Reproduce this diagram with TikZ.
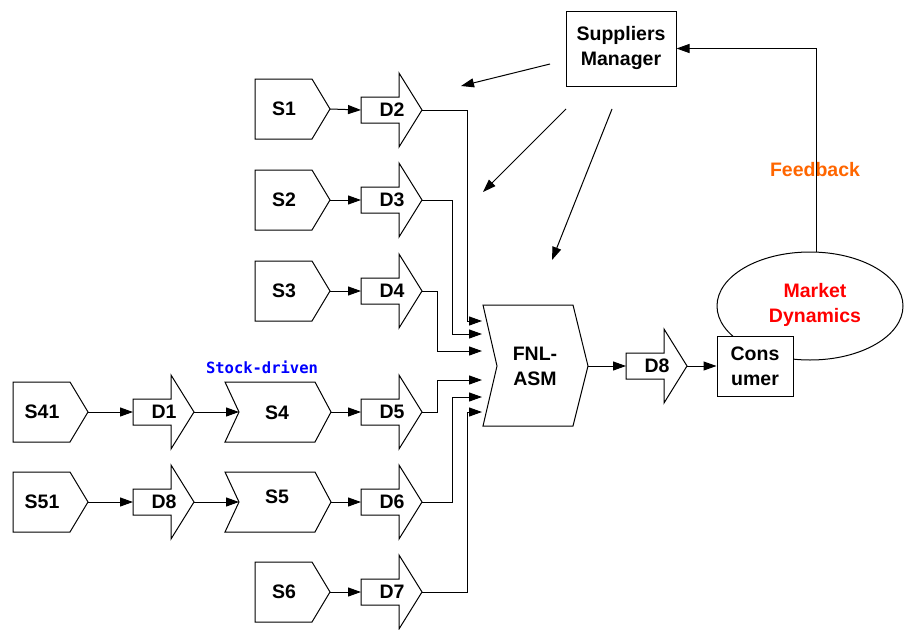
\documentclass[tikz,border=0pt]{standalone}
\usepackage{fontspec}
\setmainfont{Liberation Sans}
\newfontfamily\monofnt{DejaVu Sans Mono}
\usetikzlibrary{arrows.meta,shapes.geometric}
\definecolor{fbor}{RGB}{255,102,0}
\definecolor{sdblue}{RGB}{0,0,255}
\definecolor{mdred}{RGB}{255,0,0}
\tikzset{
  outline/.style={draw=black, line width=1pt, line join=miter, fill=white},
  lbl/.style={font=\fontsize{19.5}{25}\selectfont\bfseries, inner sep=0pt, align=center},
  conn/.style={draw=black, line width=1pt},
  arr/.style={conn, -{Triangle[length=13pt,width=9pt]}},
  box/.style={outline, lbl, rectangle, inner sep=0pt},
}
% source pentagon: name, left x, centre y, text
\newcommand{\SrcShape}[4]{%
  \draw[outline] (#2,#3-30) -- ++(57,0) -- ++(18,30) -- ++(-18,30) -- ++(-57,0) -- cycle;
  \node[lbl] (#1) at (#2+29,#3) {#4};
  \coordinate (#1-out) at (#2+75,#3);
}
% block arrow: name, body left x, centre y, text
\newcommand{\DShape}[4]{%
  \draw[outline] (#2,#3-13) -- ++(38,0) -- ++(0,-24) -- ++(23,37) -- ++(-23,37) -- ++(0,-24) -- ++(-38,0) -- cycle;
  \node[lbl] (#1) at (#2+31,#3) {#4};
  \coordinate (#1-in) at (#2,#3);
  \coordinate (#1-out) at (#2+61,#3);
}
% chevron: name, left x, centre y, text, text y
\newcommand{\StkShape}[5]{%
  \draw[outline] (#2,#3-30) -- ++(90,0) -- ++(16,30) -- ++(-16,30) -- ++(-90,0) -- ++(14,-30) -- cycle;
  \node[lbl] (#1) at (#2+52,#5) {#4};
  \coordinate (#1-in) at (#2+14,#3);
  \coordinate (#1-out) at (#2+106,#3);
}
\begin{document}
\begin{tikzpicture}[x=1pt,y=-1pt]
\useasboundingbox[fill=white] (0,0) rectangle (904,629);

% row 1
\SrcShape{S1}{255}{109}{S1}
\DShape{D2}{361}{110}{D2}
% row 2
\SrcShape{S2}{255}{200}{S2}
\DShape{D3}{361}{200}{D3}
% row 3
\SrcShape{S3}{255}{291}{S3}
\DShape{D4}{361}{291}{D4}
% row 4
\SrcShape{S41}{13}{412}{S41}
\DShape{D1}{133}{412}{D1}
\StkShape{S4}{225}{412}{S4}{413}
\DShape{D5}{361}{412}{D5}
% row 5
\SrcShape{S51}{13}{502}{S51}
\DShape{D8a}{133}{502}{D8}
\StkShape{S5}{225}{502}{S5}{497}
\DShape{D6}{361}{502}{D6}
% row 6
\SrcShape{S6}{255}{592}{S6}
\DShape{D7}{361}{592}{D7}

\node[font=\monofnt\bfseries\fontsize{15.5}{18}\selectfont, text=sdblue, inner sep=0pt] (stk) at (262,367) {Stock-driven};

% assembly
\draw[outline] (483,305) -- (573,305) -- (588,366) -- (573,426) -- (483,426) -- (497,366) -- cycle;
\node[lbl] (fnl) at (535,366) {FNL-\\ASM};
\coordinate (fnl-out) at (588,366);
\coordinate (fin1) at (482,321);
\coordinate (fin2) at (482,334);
\coordinate (fin3) at (482,351);
\coordinate (fin4) at (482,380);
\coordinate (fin5) at (482,397);
\coordinate (fin6) at (482,412);

\DShape{D8}{626}{366}{D8}

% market dynamics
\node[draw=black, line width=1pt, ellipse, minimum width=186pt, minimum height=108pt, inner sep=0pt] (mkt) at (810,306) {};
\node[lbl, text=mdred] (mkttxt) at (815,305) {Market\\Dynamics};
\node[box, minimum width=76pt, minimum height=60pt] (cons) at (755,366) {Cons\\umer};

% suppliers manager
\node[box, minimum width=110pt, minimum height=75pt] (sm) at (621,48.5) {Suppliers\\Manager};
\node[lbl, text=fbor] (fb) at (815,170) {Feedback};
\coordinate (fbtop) at (816,48.5);
\draw[arr] (fbtop |- mkt.north) -- (fbtop) -- (sm.east);

% manager arrows
\coordinate (a1s) at (550,64);  \coordinate (a1e) at (461,86);
\coordinate (a2s) at (566,109); \coordinate (a2e) at (483,192);
\coordinate (a3s) at (612,109); \coordinate (a3e) at (552,260);
\draw[arr] (a1s) -- (a1e);
\draw[arr] (a2s) -- (a2e);
\draw[arr] (a3s) -- (a3e);

% flow arrows
\draw[arr] (S1-out) -- (D2-in);
\draw[arr] (S2-out) -- (D3-in);
\draw[arr] (S3-out) -- (D4-in);
\draw[arr] (S41-out) -- (D1-in);
\draw[arr] (D1-out) -- (S4-in);
\draw[arr] (S4-out) -- (D5-in);
\draw[arr] (S51-out) -- (D8a-in);
\draw[arr] (D8a-out) -- (S5-in);
\draw[arr] (S5-out) -- (D6-in);
\draw[arr] (S6-out) -- (D7-in);

\draw[arr] (D2-out) -- ++(45,0) |- (fin1);
\draw[arr] (D3-out) -- ++(30,0) |- (fin2);
\draw[arr] (D4-out) -- ++(15,0) |- (fin3);
\draw[arr] (D5-out) -- ++(15,0) |- (fin4);
\draw[arr] (D6-out) -- ++(30,0) |- (fin5);
\draw[arr] (D7-out) -- ++(45,0) |- (fin6);

\draw[arr] (fnl-out) -- (D8-in);
\draw[arr] (D8-out) -- (cons.west);
\end{tikzpicture}
\end{document}
